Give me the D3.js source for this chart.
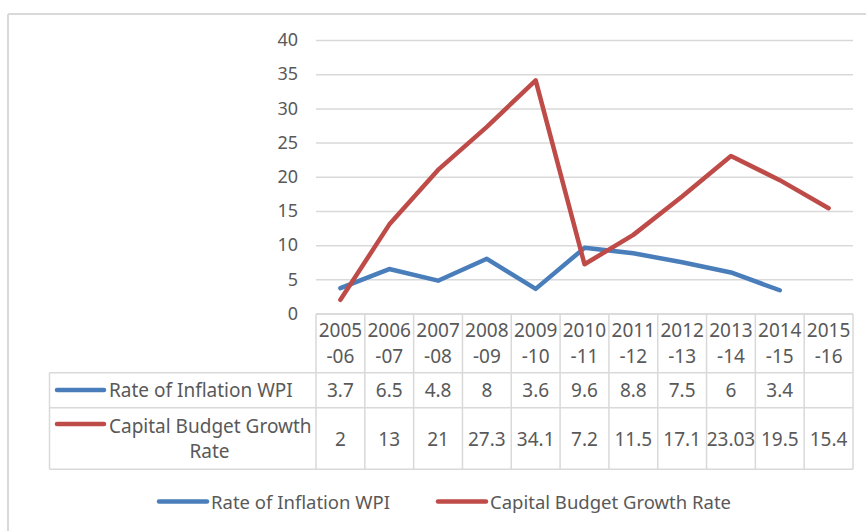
<!DOCTYPE html>
<html>
<head>
<meta charset="utf-8">
<script src="https://cdn.jsdelivr.net/npm/d3@7"></script>
<style>
  body { margin: 0; background: #fff; }
  svg { display: block; font-family: 'Noto Sans', sans-serif; }
</style>
</head>
<body>
<script>
// Chart data
const categories = ['2005-06', '2006-07', '2007-08', '2008-09', '2009-10', '2010-11',
    '2011-12', '2012-13', '2013-14', '2014-15', '2015-16'];
const inflation = [3.7, 6.5, 4.8, 8, 3.6, 9.6, 8.8, 7.5, 6, 3.4, null];
const capital = [2, 13, 21, 27.3, 34.1, 7.2, 11.5, 17.1, 23.03, 19.5, 15.4];
const yTicks = [0, 5, 10, 15, 20, 25, 30, 35, 40];
const seriesNames = ['Rate of Inflation WPI', 'Capital Budget Growth Rate'];

const width = 866;
const height = 531;
const textColor = '#595959';
const gridColor = '#d9d9d9';
const colors = ['#4a7ebb', '#be4b48'];

const svg = d3.select('body').append('svg')
    .attr('width', width)
    .attr('height', height);

// chart frame (only top and left edges are visible)
svg.append('line').attr('x1', 8).attr('x2', width).attr('y1', 14).attr('y2', 14)
    .attr('stroke', gridColor).attr('stroke-width', 2);
svg.append('line').attr('x1', 8).attr('x2', 8).attr('y1', 14).attr('y2', height)
    .attr('stroke', gridColor).attr('stroke-width', 2);

// scales
const xScale = d3.scaleBand().domain(categories).range([316, 853]);
const yScale = d3.scaleLinear().domain([0, 40]).range([313.5, 40]);
const cx = (c) => xScale(c) + xScale.bandwidth() / 2;

// y axis with gridlines
const yAxis = d3.axisLeft(yScale)
    .tickValues(yTicks)
    .tickSize(-(853 - 316))
    .tickPadding(18);
const gy = svg.append('g')
    .attr('transform', 'translate(316,0)')
    .call(yAxis);
gy.select('.domain').remove();
gy.selectAll('.tick line').attr('stroke', gridColor).attr('stroke-width', 1.5);
gy.selectAll('.tick text')
    .attr('fill', textColor)
    .style('font-size', '18px')
    .style('font-family', "'Noto Sans', sans-serif");

// series lines
const line = d3.line()
    .defined((d) => d.v != null)
    .x((d) => cx(d.c))
    .y((d) => yScale(d.v));

[inflation, capital].forEach((vals, i) => {
    svg.append('path')
        .datum(categories.map((c, j) => ({ c: c, v: vals[j] })))
        .attr('fill', 'none')
        .attr('stroke', colors[i])
        .attr('stroke-width', 4.5)
        .attr('stroke-linejoin', 'round')
        .attr('stroke-linecap', 'round')
        .attr('d', line);
});

// data table
const tbl = svg.append('g');
const rowY = [314, 372.7, 407.7, 469.3];
const left = 49.5, right = 853;

// horizontal rules
tbl.append('line').attr('x1', 316).attr('x2', right).attr('y1', rowY[0]).attr('y2', rowY[0]);
rowY.slice(1).forEach((y) => {
    tbl.append('line').attr('x1', left).attr('x2', right).attr('y1', y).attr('y2', y);
});
// vertical rules
tbl.append('line').attr('x1', left).attr('x2', left).attr('y1', rowY[1]).attr('y2', rowY[3]);
categories.forEach((c) => {
    tbl.append('line').attr('x1', xScale(c)).attr('x2', xScale(c))
        .attr('y1', rowY[0]).attr('y2', rowY[3]);
});
tbl.append('line').attr('x1', right).attr('x2', right).attr('y1', rowY[0]).attr('y2', rowY[3]);
tbl.selectAll('line').attr('stroke', gridColor).attr('stroke-width', 1.5);

const cellText = (x, y, t, anchor) => tbl.append('text')
    .attr('x', x).attr('y', y)
    .attr('text-anchor', anchor || 'middle')
    .attr('fill', textColor)
    .style('font-size', '19px')
    .text(t);

// header row: year split over two lines
categories.forEach((c) => {
    const parts = c.split('-');
    cellText(cx(c), 337, parts[0]);
    cellText(cx(c), 363, '-' + parts[1]);
});

// values
categories.forEach((c, j) => {
    if (inflation[j] != null) cellText(cx(c), 397, inflation[j]);
    if (capital[j] != null) cellText(cx(c), 446, capital[j]);
});

// row labels with legend keys
tbl.append('line').attr('x1', 57).attr('x2', 104).attr('y1', 390).attr('y2', 390)
    .attr('stroke', colors[0]).attr('stroke-width', 4.5).attr('stroke-linecap', 'round');
cellText(109, 397, seriesNames[0], 'start');
tbl.append('line').attr('x1', 57).attr('x2', 104).attr('y1', 424).attr('y2', 424)
    .attr('stroke', colors[1]).attr('stroke-width', 4.5).attr('stroke-linecap', 'round');
cellText(109, 432.5, 'Capital Budget Growth', 'start');
cellText(209.5, 458, 'Rate');

// bottom legend
const legend = svg.append('g');
const legendItems = [
    { name: seriesNames[0], color: colors[0], x: 159 },
    { name: seriesNames[1], color: colors[1], x: 438 },
];
legendItems.forEach((d) => {
    legend.append('line')
        .attr('x1', d.x).attr('x2', d.x + 48)
        .attr('y1', 501.5).attr('y2', 501.5)
        .attr('stroke', d.color).attr('stroke-width', 4.5).attr('stroke-linecap', 'round');
    legend.append('text')
        .attr('x', d.x + 52).attr('y', 509)
        .attr('fill', textColor)
        .style('font-size', '18.5px')
        .text(d.name);
});
</script>
</body>
</html>
